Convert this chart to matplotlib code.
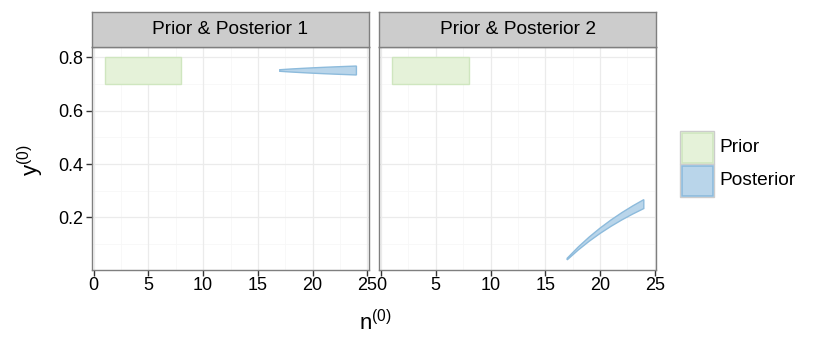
import matplotlib
matplotlib.use("Agg")
import matplotlib.pyplot as plt
from matplotlib.patches import Rectangle, Polygon

plt.rcParams['font.family'] = ['Liberation Sans', 'DejaVu Sans']
plt.rcParams['mathtext.fontset'] = 'custom'
plt.rcParams['mathtext.rm'] = 'Liberation Sans'
plt.rcParams['mathtext.it'] = 'Liberation Sans'

# ---- data ----
panels = ["Prior & Posterior 1", "Prior & Posterior 2"]
prior_n = [1, 8]
prior_y = [0.7, 0.8]
post_n = [17, 18, 19, 20, 21, 22, 23, 24]
post1_upper = [0.7529, 0.7556, 0.7579, 0.7600, 0.7619, 0.7636, 0.7652, 0.7667]
post1_lower = [0.7471, 0.7444, 0.7421, 0.7400, 0.7381, 0.7364, 0.7348, 0.7333]
post2_upper = [0.0471, 0.0889, 0.1263, 0.1600, 0.1905, 0.2182, 0.2435, 0.2667]
post2_lower = [0.0412, 0.0778, 0.1105, 0.1400, 0.1667, 0.1909, 0.2130, 0.2333]
posts = [(post1_lower, post1_upper), (post2_lower, post2_upper)]
x_ticks = [0, 5, 10, 15, 20, 25]
y_ticks = [0.2, 0.4, 0.6, 0.8]
legend_labels = ["Prior", "Posterior"]

prior_fill, prior_edge = "#e5f2d9", "#cfe6bf"
post_fill, post_edge = "#b9d5ea", "#8dbbdc"

W, H = 830, 346
fig = plt.figure(figsize=(W / 100, H / 100), dpi=100)

def fx(px): return px / W
def fy(py): return 1 - py / H

panel_lefts = [92, 379.4]
pw = 277
ptop, pbot = 47, 270
xlim = (-0.15, 25.15)
ylim = (0.0033, 0.838)

for i, name in enumerate(panels):
    left = panel_lefts[i]
    ax = fig.add_axes([fx(left), fy(pbot), pw / W, (pbot - ptop) / H])
    ax.set_xlim(*xlim)
    ax.set_ylim(*ylim)
    ax.set_facecolor("white")
    # grid
    for v in [2.5, 7.5, 12.5, 17.5, 22.5]:
        ax.axvline(v, color="#f7f7f7", lw=0.6, zorder=0)
    for v in [0.1, 0.3, 0.5, 0.7]:
        ax.axhline(v, color="#f7f7f7", lw=0.6, zorder=0)
    for v in x_ticks:
        ax.axvline(v, color="#ebebeb", lw=0.9, zorder=0)
    for v in y_ticks:
        ax.axhline(v, color="#ebebeb", lw=0.9, zorder=0)
    # prior rectangle
    ax.add_patch(Rectangle((prior_n[0], prior_y[0]), prior_n[1] - prior_n[0],
                           prior_y[1] - prior_y[0], facecolor=prior_fill,
                           edgecolor=prior_edge, lw=1.0, zorder=2))
    lo, up = posts[i]
    pts = list(zip(post_n, up)) + list(zip(post_n[::-1], lo[::-1]))
    ax.add_patch(Polygon(pts, closed=True, facecolor=post_fill,
                         edgecolor=post_edge, lw=1.0, zorder=3))
    ax.set_xticks(x_ticks)
    ax.set_xticklabels([str(t) for t in x_ticks], fontsize=13)
    ax.set_yticks(y_ticks)
    if i == 0:
        ax.set_yticklabels([f"{t:.1f}" for t in y_ticks], fontsize=13)
        ax.tick_params(axis="y", length=4, width=1, color="#333333", pad=2)
    else:
        ax.set_yticklabels([])
        ax.tick_params(axis="y", length=0)
    ax.tick_params(axis="x", length=4, width=1, color="#333333", pad=1)
    for s in ax.spines.values():
        s.set_color("#7f7f7f")
        s.set_linewidth(1.0)
    # strip
    sax = fig.add_axes([fx(left), fy(ptop), pw / W, (ptop - 12) / H])
    sax.set_facecolor("#cccccc")
    sax.set_xticks([]); sax.set_yticks([])
    for s in sax.spines.values():
        s.set_color("#7f7f7f")
        s.set_linewidth(1.0)
    sax.text(0.5, 0.5, name, ha="center", va="center", fontsize=13.8,
             transform=sax.transAxes, color="black")

fig.text(fx(375), fy(330), r"n$^{(0)}$", ha="center", va="baseline", fontsize=16)
fig.text(fx(31), fy(160), r"y$^{(0)}$", ha="center", va="center", fontsize=16,
         rotation=90)

# legend
key_x0, key_w = 680, 34
keys = [(131, prior_fill, prior_edge), (164, post_fill, post_edge)]
for (ky, fc, ec), lab in zip(keys, legend_labels):
    fig.patches.append(Rectangle((fx(key_x0), fy(ky + 33)), key_w / W, 33 / H,
                                 transform=fig.transFigure, facecolor="white",
                                 edgecolor="#cccccc", lw=1.0))
    fig.patches.append(Rectangle((fx(key_x0 + 1.5), fy(ky + 31.5)), (key_w - 3) / W,
                                 30 / H, transform=fig.transFigure, facecolor=fc,
                                 edgecolor=ec, lw=1.2))
    fig.text(fx(719), fy(ky + 16.5), lab, ha="left", va="center", fontsize=13.8)

fig.savefig("out.png", dpi=100)
